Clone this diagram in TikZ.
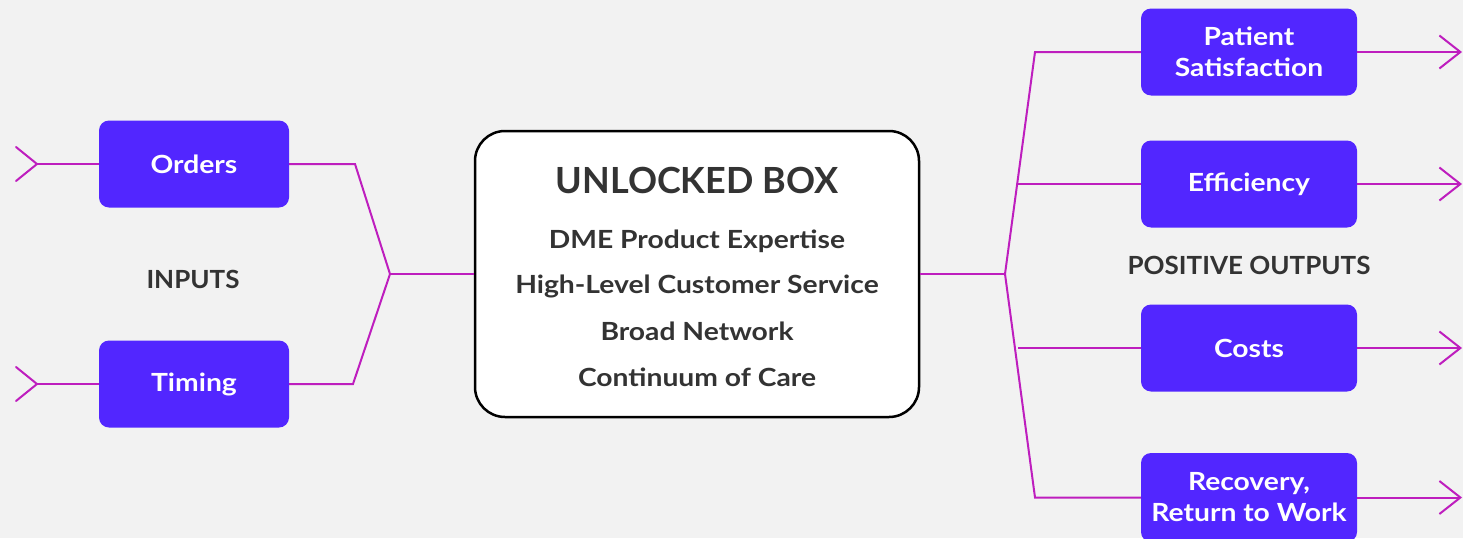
\documentclass[tikz,border=0pt]{standalone}
\usepackage{fontspec}
\setmainfont{Lato}
\newfontfamily\widefont{Lato}[FakeStretch=1.13]
\newfontfamily\capsfont{Lato}[FakeStretch=1.04]
\usetikzlibrary{arrows.meta}
\definecolor{bg}{HTML}{F2F2F2}
\definecolor{boxc}{HTML}{5226FF}
\definecolor{linkc}{HTML}{BE1EBE}
\definecolor{ink}{HTML}{333333}
\begin{document}
\begin{tikzpicture}[x=1pt,y=-1pt,
  pbox/.style={fill=boxc, rounded corners=10pt, text=white, font=\widefont\bfseries\fontsize{25}{31}\selectfont, align=center, inner sep=0pt, minimum width=#1, minimum height=87pt},
  pbox/.default=190pt,
  lbl/.style={text=ink, font=\capsfont\bfseries\fontsize{25}{28}\selectfont, inner sep=0pt},
  item/.style={text=ink, font=\widefont\bfseries\fontsize{25}{28}\selectfont, inner sep=0pt},
  conn/.style={draw=linkc, line width=2pt},
  outarrow/.style={conn, -{Straight Barb[length=21pt, width=33pt, line width=2pt]}}
]
\fill[bg] (0,0) rectangle (1463,538);
\useasboundingbox (0,0) rectangle (1463,538);
\clip (0,0) rectangle (1463,538);

% centre box
\node[draw=black, line width=2.5pt, fill=white, rounded corners=30pt, minimum width=444pt, minimum height=286pt, inner sep=0pt] (ub) at (697,274) {};
\node[item, font=\bfseries\fontsize{36}{40}\selectfont] (ubt) at (697,180) {UNLOCKED BOX};
\node[item] (i1) at (697,241) {DME Product Expertise};
\node[item] (i2) at (697,286) {High-Level Customer Service};
\node[item] (i3) at (697,331) {Broad Network};
\node[item] (i4) at (697,377) {Continuum of Care};

% inputs
\node[pbox] (orders) at (194,164) {Orders};
\node[pbox] (timing) at (194,384) {Timing};
\node[lbl] (inputs) at (193,279) {INPUTS};

\coordinate (oin) at (37,164);
\coordinate (tin) at (37,384);
\coordinate (ocorner) at (355,164);
\coordinate (tcorner) at (353,384);
\coordinate (ljoin) at (390,274);

\draw[conn, line cap=round] (oin) ++(-21,-17) -- (oin) -- ++(-21,17);
\draw[conn, line cap=round] (tin) ++(-21,-17) -- (tin) -- ++(-21,17);
\draw[conn] (oin) -- (orders.west);
\draw[conn] (tin) -- (timing.west);
\draw[conn] (orders.east) -- (ocorner) -- (ljoin) -- (tcorner) -- (timing.east);
\draw[conn] (ljoin) -- (ub.west);

% outputs
\node[pbox=216pt] (ps) at (1249,52) {Patient\\Satisfaction};
\node[pbox=216pt] (ef) at (1249,184) {Efficiency};
\node[pbox=216pt] (co) at (1249,348) {Costs};
\node[pbox=216pt, minimum height=89pt] (rw) at (1249,497.5) {Recovery,\\Return to Work};
\node[lbl] (outs) at (1249,265) {POSITIVE OUTPUTS};

\coordinate (rjoin) at (1005,274);
\coordinate (rtop) at (1035,52);
\coordinate (rbot) at (1035,497.5);
\coordinate (refb) at (1017,184);
\coordinate (rcob) at (1018,348);

\draw[conn] (ub.east) -- (rjoin);
\draw[conn] (ps.west) -- (rtop) -- (rjoin) -- (rbot) -- (rw.west);
\draw[conn] (refb) -- (ef.west);
\draw[conn] (rcob) -- (co.west);

\coordinate (pe) at (1462,52);
\coordinate (ee) at (1462,184);
\coordinate (ce) at (1462,348);
\coordinate (re) at (1462,497.5);
\draw[outarrow] (ps.east) -- (pe);
\draw[outarrow] (ef.east) -- (ee);
\draw[outarrow] (co.east) -- (ce);
\draw[outarrow] (rw.east) -- (re);
\end{tikzpicture}
\end{document}
